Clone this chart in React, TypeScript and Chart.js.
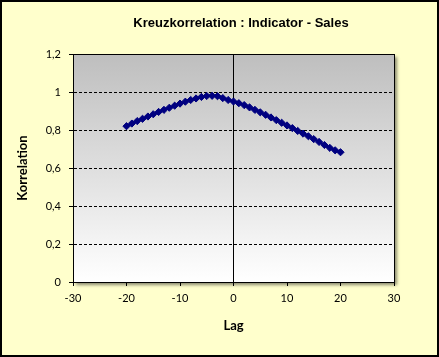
import React, { useEffect, useRef } from "react";
import { Chart, registerables } from "chart.js";

Chart.register(...registerables);

const TITLE = "Kreuzkorrelation : Indicator - Sales";
const X_TITLE = "Lag";
const Y_TITLE = "Korrelation";

const lags = [
  -20, -19, -18, -17, -16, -15, -14, -13, -12, -11, -10, -9, -8, -7, -6, -5, -4, -3, -2, -1,
  0, 1, 2, 3, 4, 5, 6, 7, 8, 9, 10, 11, 12, 13, 14, 15, 16, 17, 18, 19, 20,
];
const correlations = [
  0.82, 0.834, 0.847, 0.859, 0.871, 0.883, 0.895, 0.906, 0.917, 0.928, 0.939, 0.949, 0.958,
  0.966, 0.974, 0.979, 0.98, 0.978, 0.968, 0.958, 0.95, 0.941, 0.931, 0.919, 0.906, 0.893,
  0.88, 0.866, 0.852, 0.838, 0.824, 0.81, 0.795, 0.781, 0.767, 0.752, 0.737, 0.721, 0.706,
  0.693, 0.683,
];
const yTickLabels = ["0", "0,2", "0,4", "0,6", "0,8", "1", "1,2"];
const xTickLabels = ["-30", "-20", "-10", "0", "10", "20", "30"];

const decorPlugin = {
  id: "decor",
  beforeDraw(chart: any) {
    const { ctx, width, height, chartArea: a } = chart;
    ctx.save();
    ctx.fillStyle = "#FFFFCC";
    ctx.fillRect(0, 0, width, height);
    ctx.strokeStyle = "#000";
    ctx.lineWidth = 2;
    ctx.strokeRect(1, 1, width - 2, height - 2);
    ctx.shadowColor = "rgba(0,0,0,0.45)";
    ctx.shadowOffsetX = 3;
    ctx.shadowOffsetY = 3;
    ctx.shadowBlur = 3;
    const g = ctx.createLinearGradient(0, a.top, 0, a.bottom);
    g.addColorStop(0, "#BEBEBE");
    g.addColorStop(1, "#FFFFFF");
    ctx.fillStyle = g;
    ctx.fillRect(a.left, a.top, a.right - a.left, a.bottom - a.top);
    ctx.restore();

    ctx.save();
    ctx.font = 'bold 13px "Liberation Sans", Arial, sans-serif';
    ctx.fillStyle = "#000";
    ctx.textAlign = "center";
    ctx.textBaseline = "middle";
    ctx.fillText(TITLE, 241, 23);
    ctx.restore();
  },
  beforeDatasetsDraw(chart: any) {
    const { ctx, chartArea: a } = chart;
    ctx.save();
    ctx.strokeStyle = "#000";
    ctx.lineWidth = 1;
    const l = Math.round(a.left) + 0.5;
    const t = Math.round(a.top) + 0.5;
    const r = Math.round(a.right) + 0.5;
    const b = Math.round(a.bottom) + 0.5;
    ctx.strokeRect(l, t, r - l, b - t);
    ctx.restore();
  },
};

export default function App() {
  const ref = useRef<HTMLCanvasElement>(null);
  useEffect(() => {
    if (!ref.current) return;
    const tickFont = { family: "Lato, 'Open Sans', sans-serif", size: 11 };
    const titleFont = { family: "Lato, 'Open Sans', sans-serif", size: 13, weight: "bold" as const, lineHeight: 1.2 };
    const chart = new Chart(ref.current, {
      type: "line",
      data: {
        datasets: [
          {
            data: lags.map((x, i) => ({ x, y: correlations[i] })),
            borderColor: "#000080",
            backgroundColor: "#000080",
            borderWidth: 2,
            pointStyle: "rectRot",
            pointRadius: 3.6,
            pointBorderWidth: 1,
            pointBackgroundColor: "#000080",
            pointBorderColor: "#000080",
            tension: 0,
          },
        ],
      },
      options: {
        animation: false,
        responsive: false,
        devicePixelRatio: 1,
        layout: { padding: { top: 54, right: 45, left: 0, bottom: 0 } },
        plugins: { legend: { display: false }, title: { display: false }, tooltip: { enabled: false } },
        scales: {
          x: {
            type: "linear",
            min: -30,
            max: 30,
            ticks: {
              stepSize: 10,
              color: "#000",
              font: tickFont,
              padding: 6,
              maxRotation: 0,
              callback: (_v: any, i: number) => xTickLabels[i],
            },
            grid: {
              color: (c: any) => (c.tick && c.tick.value === 0 ? "#000" : "rgba(0,0,0,0)"),
              tickColor: "#000",
              tickLength: 4,
              lineWidth: 1,
            },
            border: { color: "#000", width: 1 },
            title: { display: true, text: X_TITLE, color: "#000", font: titleFont, padding: { top: 0, bottom: 23 } },
            afterFit: (s: any) => {
              s.height = 75;
            },
          },
          y: {
            min: 0,
            max: 1.2,
            ticks: {
              stepSize: 0.2,
              color: "#000",
              font: tickFont,
              padding: 8,
              callback: (_v: any, i: number) => yTickLabels[i],
            },
            grid: { color: "#000", tickColor: "#000", tickLength: 4, lineWidth: 1, tickBorderDash: [] },
            border: { color: "#000", width: 1, dash: [3, 2] },
            title: { display: true, text: Y_TITLE, color: "#000", font: titleFont, padding: { top: 15, bottom: 0 } },
            afterFit: (s: any) => {
              s.width = 73;
            },
          },
        },
      },
      plugins: [decorPlugin],
    } as any);
    return () => chart.destroy();
  }, []);
  return (
    <div style={{ position: "fixed", left: 0, top: 0, width: 439, height: 357 }}>
      <canvas ref={ref} width={439} height={357} style={{ display: "block" }} />
    </div>
  );
}
